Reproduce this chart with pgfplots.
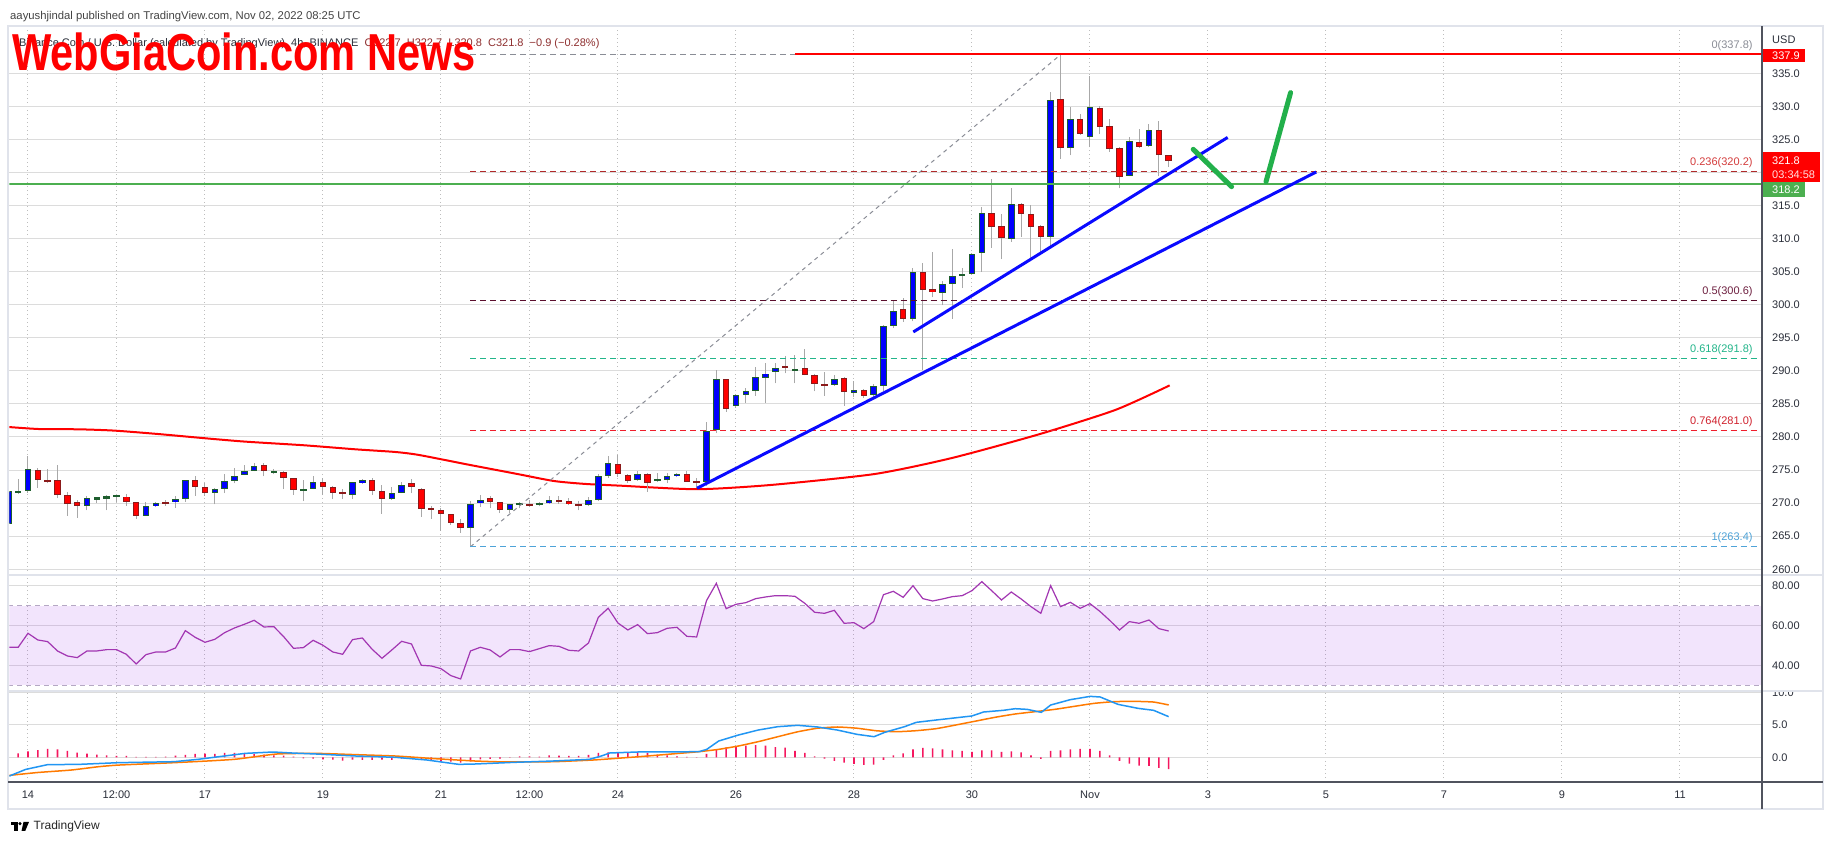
\documentclass[border=0pt]{standalone}
\usepackage{pgfplots}
\pgfplotsset{compat=1.18}
\usepackage{pgfplotstable}
\usepackage{graphicx}
\usepackage{fontspec}
\setmainfont{Liberation Sans}
\definecolor{upfill}{HTML}{0000FF}
\definecolor{upedge}{HTML}{1E5E2E}
\definecolor{dnfill}{HTML}{FF0000}
\definecolor{dnedge}{HTML}{8B1A1A}
\definecolor{wick}{HTML}{A8A8A8}
\definecolor{gridc}{HTML}{DCDCDC}
\definecolor{vgridc}{HTML}{BDBDBD}
\definecolor{tickc}{HTML}{2A2E39}
\definecolor{hdrc}{HTML}{444444}
\definecolor{framec}{HTML}{E0E3EB}
\definecolor{axisc}{HTML}{50535E}
\definecolor{trendblue}{HTML}{0A0AFF}
\definecolor{arrowgreen}{HTML}{22B04B}
\definecolor{suppgreen}{HTML}{4CAF50}
\definecolor{fibgray}{HTML}{8A8D96}
\definecolor{fibA}{HTML}{B02A2A}
\definecolor{fibAt}{HTML}{D43C3C}
\definecolor{fibB}{HTML}{5B0F2E}
\definecolor{fibBt}{HTML}{6E2040}
\definecolor{fibC}{HTML}{22B58A}
\definecolor{fibD}{HTML}{F01E2C}
\definecolor{fibDt}{HTML}{D0202C}
\definecolor{fibE}{HTML}{4EA3D8}
\definecolor{rsic}{HTML}{A236B2}
\definecolor{bandc}{RGB}{155,38,238}
\definecolor{banddash}{HTML}{B5A8C4}
\definecolor{macdblue}{HTML}{2196F3}
\definecolor{macdorange}{HTML}{FF7A00}
\definecolor{histc}{HTML}{F5175F}
\definecolor{wmred}{HTML}{FF0000}
\definecolor{ohlcc}{HTML}{8E2F2F}
\newcommand\tk{\fontsize{11}{13}\selectfont}

\pgfplotstableread{
i o h l c
-2 266.9 272.0 266.5 271.8
-1 271.6 273.7 271.4 271.8
0 271.8 277.1 271.6 275.1
1 275.0 275.3 272.3 273.55
2 273.45 275.1 273.0 273.25
3 273.45 275.7 270.7 271.3
4 271.3 271.7 268.1 269.8
5 270.1 270.5 267.8 269.5
6 269.5 271.1 268.9 270.7
7 270.6 270.9 270.0 270.8
8 270.7 271.3 268.9 271.0
9 271.0 271.1 270.1 271.1
10 271.0 271.4 269.6 270.1
11 270.1 270.2 267.65 268.1
12 268.1 270.1 268.0 269.5
13 269.5 270.1 269.4 270.0
14 270.2 270.5 269.6 269.9
15 270.1 271.1 269.3 270.6
16 270.6 273.5 270.2 273.45
17 273.45 274.1 271.1 272.5
18 272.5 273.1 271.1 271.6
19 271.5 272.3 269.8 272.2
20 272.2 274.4 271.5 273.3
21 273.3 275.3 273.0 274.05
22 274.2 275.7 274.2 274.8
23 274.8 276.0 274.8 275.6
24 275.7 276.0 274.05 274.8
25 274.7 275.1 274.4 274.8
26 274.75 274.8 272.1 273.75
27 273.75 273.8 271.3 272.0
28 271.9 273.45 270.3 272.2
29 272.2 274.05 272.1 273.15
30 273.15 273.8 271.2 272.5
31 272.5 272.6 270.6 271.6
32 271.6 272.2 270.6 271.4
33 271.2 273.15 270.6 273.15
34 273.0 273.6 272.9 273.45
35 273.45 273.75 271.2 271.9
36 271.9 272.7 268.4 270.6
37 270.6 272.5 270.5 271.6
38 271.6 273.15 271.5 272.8
39 273.0 273.6 271.5 272.4
40 272.2 272.3 267.95 269.06
41 269.2 269.5 267.65 268.9
42 268.9 269.2 265.8 268.4
43 268.3 268.4 266.75 267.05
44 267.05 267.65 265.5 266.3
45 266.3 270.3 263.4 269.8
46 269.97 271.2 269.4 270.4
47 270.7 271.0 269.2 270.1
48 270.1 270.2 268.5 268.9
49 268.9 269.9 268.5 269.8
50 269.8 270.1 269.2 269.9
51 269.8 270.4 269.4 269.5
52 269.7 270.1 269.5 269.97
53 269.97 271.0 269.9 270.4
54 270.4 271.0 269.9 270.2
55 270.3 270.8 269.7 269.8
56 269.8 270.3 268.9 269.7
57 269.7 270.9 269.6 270.4
58 270.4 274.4 270.3 274.05
59 274.05 277.1 273.8 276.0
60 275.9 277.3 274.0 274.4
61 274.2 274.4 273.0 273.4
62 273.45 274.9 273.4 274.4
63 274.4 274.5 271.7 273.1
64 273.4 274.5 273.2 273.5
65 273.45 274.5 273.0 274.1
66 274.05 274.6 273.9 274.4
67 274.4 274.9 273.2 273.25
68 273.3 273.76 272.25 273.1
69 273.15 282.3 272.6 280.9
70 281.1 290.1 280.6 288.7
71 288.7 288.8 283.8 284.3
72 284.65 286.5 284.4 286.3
73 286.3 287.4 285.2 287.0
74 286.9 290.6 286.2 289.0
75 288.9 291.25 285.2 289.6
76 289.9 291.15 288.1 290.4
77 290.7 292.3 289.6 290.4
78 290.05 292.4 288.1 290.2
79 290.4 293.3 289.3 289.3
80 289.4 289.5 286.9 288.0
81 287.9 289.9 286.2 287.8
82 287.8 289.3 287.7 288.7
83 288.9 289.0 284.75 286.8
84 286.7 288.4 286.0 287.1
85 287.1 287.2 285.9 286.2
86 286.3 288.0 286.0 287.7
87 287.7 297.0 286.9 296.8
88 296.8 300.7 296.5 299.1
89 299.3 301.0 297.4 297.9
90 297.9 305.5 297.5 304.9
91 304.9 306.3 290.1 302.3
92 302.4 308.0 301.1 301.9
93 301.7 303.6 299.9 303.2
94 303.2 308.5 297.9 304.3
95 304.3 305.6 302.5 304.6
96 304.6 307.8 304.5 307.6
97 307.8 314.8 305.0 313.8
98 313.8 318.97 308.6 311.8
99 311.9 313.7 306.9 310.1
100 310.0 317.6 309.5 315.3
101 315.3 315.4 310.3 313.7
102 313.7 315.1 307.0 311.7
103 311.9 312.0 307.8 310.3
104 310.3 332.1 308.8 330.9
105 331.1 337.8 322.1 323.7
106 323.7 329.95 322.6 328.04
107 328.04 328.9 325.7 325.8
108 325.4 334.6 323.8 329.85
109 329.7 330.05 325.8 326.9
110 327.0 328.04 323.1 323.5
111 323.7 323.8 317.6 319.3
112 319.5 325.3 319.4 324.7
113 324.56 326.5 323.7 323.8
114 324.0 327.3 323.9 326.4
115 326.4 327.8 319.4 322.7
116 322.7 322.7 320.8 321.8
}\candles

\pgfplotstableread{
i r
-2 49.08
-1 49.08
0 56.14
1 52.78
2 51.94
3 47.23
4 44.71
5 43.87
6 47.23
7 47.23
8 47.90
9 47.90
10 45.55
11 40.67
12 45.38
13 46.72
14 46.72
15 48.74
16 57.48
17 54.12
18 51.6
19 53.11
20 56.47
21 58.83
22 60.68
23 62.69
24 59.33
25 59.5
26 54.46
27 48.57
28 48.91
29 52.61
30 50.09
31 46.72
32 45.55
33 52.94
34 53.78
35 48.07
36 43.53
37 47.73
38 52.1
39 50.76
40 40.0
41 39.67
42 38.32
43 34.8
44 33.1
45 47.23
46 49.08
47 47.73
48 44.2
49 47.9
50 47.9
51 46.9
52 48.4
53 49.92
54 49.58
55 47.57
56 47.23
57 51.26
58 64.2
59 68.8
60 61.3
61 57.82
62 60.51
63 55.97
64 56.47
65 58.66
66 59.16
67 54.62
68 54.29
69 72.61
70 81.35
71 68.57
72 70.76
73 71.6
74 73.62
75 74.46
76 75.13
77 75.13
78 74.79
79 71.26
80 66.73
81 66.22
82 67.73
83 61.18
84 61.5
85 58.49
86 62.02
87 75.63
88 77.31
89 74.29
90 80.17
91 73.62
92 72.44
93 73.45
94 74.63
95 75.13
96 77.65
97 82.19
98 77.65
99 72.94
100 76.98
101 73.45
102 69.58
103 66.22
104 80.17
105 69.58
106 71.77
107 68.74
108 71.1
109 67.23
110 62.69
111 57.82
112 62.02
113 61.18
114 62.86
115 58.49
116 57.31
}\rsi

\pgfplotstableread{
i v
-1 0.62
0 0.93
1 1.13
2 1.29
3 1.24
4 0.98
5 0.72
6 0.57
7 0.41
8 0.31
9 0.21
10 0.21
11 0.05
12 0.05
13 0.05
14 0.1
15 0.26
16 0.36
17 0.52
18 0.57
19 0.52
20 0.67
21 0.67
22 0.57
23 0.52
24 0.41
25 0.31
26 0.26
27 0.1
28 -0.15
29 -0.2
30 -0.31
31 -0.36
32 -0.52
33 -0.36
34 -0.41
35 -0.41
36 -0.36
37 -0.41
38 -0.2
39 -0.2
40 -0.41
41 -0.57
42 -0.62
43 -0.67
44 -0.83
45 -0.62
46 -0.31
47 -0.26
48 -0.2
49 -0.05
50 0.15
51 0.15
52 0.1
53 0.31
54 0.26
55 0.21
56 0.21
57 0.36
58 0.67
59 0.77
60 0.72
61 0.67
62 0.83
63 0.67
64 0.41
65 0.31
66 0.15
67 0.05
68 0.03
69 0.52
70 1.24
71 1.54
72 1.70
73 1.80
74 1.90
75 1.80
76 1.59
77 1.49
78 0.98
79 0.67
80 0.15
81 -0.2
82 -0.57
83 -0.83
84 -1.03
85 -1.19
86 -1.14
87 -0.41
88 0.31
89 0.62
90 1.24
91 1.44
92 1.39
93 1.24
94 1.08
95 0.98
96 0.83
97 1.08
98 1.08
99 0.83
100 0.93
101 0.77
102 0.31
103 -0.26
104 0.98
105 1.08
106 1.24
107 1.29
108 1.29
109 0.98
110 0.31
111 -0.57
112 -0.98
113 -1.29
114 -1.34
115 -1.65
116 -1.81
}\hist

\pgfplotsset{
  tvaxis/.style={scale only axis, anchor=south west, width=1752.5pt,
    xmin=-1.881, xmax=176.34, axis line style={draw=none}, tick style={draw=none},
    major tick length=0pt,
    xtick={0,9,18,30,42,51,60,72,84,96,108,120,132,144,156,168},
    xmajorgrids, ymajorgrids,
    x grid style={draw=vgridc, line width=1pt, dash pattern=on 1pt off 3pt},
    y grid style={draw=gridc, line width=1pt},
    yticklabel pos=right,
    yticklabel style={anchor=west, inner sep=0pt, xshift=10pt, font=\tk, text=tickc},
    xticklabel style={font=\tk, text=tickc},
  },
  nolabels/.style={xticklabels={,,,,,,,,,,,,,,,}},
  candle/.style={draw=none, mark=none, forget plot,
    error bars/y dir=both, error bars/y explicit, error bars/error mark=none,
    restrict y to domain=200:400},
}

\begin{document}
\begin{tikzpicture}
\path[use as bounding box, fill=white] (0pt,0pt) rectangle (1834pt,845pt);

% ---------------- price panel
\begin{axis}[tvaxis, nolabels, at={(9.5pt,270pt)}, height=549pt, ymin=259.13, ymax=342.15,
  ytick={260,265,...,335},
  yticklabels={260.0,265.0,270.0,275.0,280.0,285.0,290.0,295.0,300.0,305.0,310.0,315.0,,325.0,330.0,335.0}]
% moving average
\addplot[wmred, line width=2pt, smooth, tension=0.4] coordinates {
(-1.9,281.5) (1.17,281.2) (5.19,281.16) (8.82,280.96) (13.22,280.45) (18.06,279.8)
(22.07,279.3) (28.12,278.74) (33.35,278.13) (37.36,277.73) (39.76,277.28) (44.6,275.87)
(49.43,274.5) (53.45,273.35) (56.67,272.9) (60.2,272.64) (68.04,272.1) (75.6,272.75)
(86.1,274.4) (93.9,276.8) (102.8,280.4) (110.6,284.1) (116.1,287.8)};
% wicks
\addplot[draw=none, mark=none, forget plot,
  error bars/y dir=plus, error bars/y explicit, error bars/error mark=none,
  error bars/error bar style={draw=wick, line width=1pt}]
  table[x=i, y=l, y error expr=\thisrow{h}-\thisrow{l}] {\candles};
% up bodies
\addplot[candle, error bars/error bar style={draw=upedge, line width=6.6pt}]
  table[x=i, y expr={\thisrow{c}>=\thisrow{o} ? (\thisrow{o}+\thisrow{c})/2 : -1000},
        y error expr={max(abs(\thisrow{c}-\thisrow{o})/2,0.16)}] {\candles};
\addplot[candle, error bars/error bar style={draw=upfill, line width=4.6pt}]
  table[x=i, y expr={\thisrow{c}>=\thisrow{o} ? (\thisrow{o}+\thisrow{c})/2 : -1000},
        y error expr={max(abs(\thisrow{c}-\thisrow{o})/2-0.15,0)}] {\candles};
% down bodies
\addplot[candle, error bars/error bar style={draw=dnedge, line width=6.6pt}]
  table[x=i, y expr={\thisrow{c}<\thisrow{o} ? (\thisrow{o}+\thisrow{c})/2 : -1000},
        y error expr={max(abs(\thisrow{c}-\thisrow{o})/2,0.16)}] {\candles};
\addplot[candle, error bars/error bar style={draw=dnfill, line width=4.6pt}]
  table[x=i, y expr={\thisrow{c}<\thisrow{o} ? (\thisrow{o}+\thisrow{c})/2 : -1000},
        y error expr={max(abs(\thisrow{c}-\thisrow{o})/2-0.15,0)}] {\candles};
% fibonacci
\addplot[fibgray, line width=1pt, dash pattern=on 4pt off 4pt] coordinates {(45,263.4) (105,337.8)};
\addplot[fibgray, line width=1pt, dash pattern=on 6pt off 4pt] coordinates {(45,337.8) (176.34,337.8)};
\addplot[fibA, line width=1pt, dash pattern=on 6pt off 4pt] coordinates {(45,320.2) (176.34,320.2)};
\addplot[fibB, line width=1pt, dash pattern=on 6pt off 4pt] coordinates {(45,300.6) (176.34,300.6)};
\addplot[fibC, line width=1pt, dash pattern=on 6pt off 4pt] coordinates {(45,291.8) (176.34,291.8)};
\addplot[fibD, line width=1pt, dash pattern=on 6pt off 4pt] coordinates {(45,281.0) (176.34,281.0)};
\addplot[fibE, line width=1pt, dash pattern=on 6pt off 4pt] coordinates {(45,263.4) (176.34,263.4)};
\node[anchor=base east, inner sep=0pt, yshift=6pt, font=\tk, text=fibgray] at (axis cs:175.4,337.8) {0(337.8)};
\node[anchor=base east, inner sep=0pt, yshift=6pt, font=\tk, text=fibAt] at (axis cs:175.4,320.2) {0.236(320.2)};
\node[anchor=base east, inner sep=0pt, yshift=6pt, font=\tk, text=fibBt] at (axis cs:175.4,300.6) {0.5(300.6)};
\node[anchor=base east, inner sep=0pt, yshift=6pt, font=\tk, text=fibC] at (axis cs:175.4,291.8) {0.618(291.8)};
\node[anchor=base east, inner sep=0pt, yshift=6pt, font=\tk, text=fibDt] at (axis cs:175.4,281.0) {0.764(281.0)};
\node[anchor=base east, inner sep=0pt, yshift=6pt, font=\tk, text=fibE] at (axis cs:175.4,263.4) {1(263.4)};
% horizontal levels
\addplot[wmred, line width=2pt] coordinates {(78,337.9) (176.34,337.9)};
\addplot[suppgreen, line width=2pt] coordinates {(-1.881,318.2) (176.34,318.2)};
% trend lines
\addplot[trendblue, line width=3pt] coordinates {(68.04,272.25) (131.0,320.07)};
\addplot[trendblue, line width=3pt] coordinates {(90.03,295.88) (122.0,325.3)};
% arrows
\addplot[arrowgreen, line width=5pt, line cap=round] coordinates {(118.5,323.5) (122.4,317.85)};
\addplot[arrowgreen, line width=5pt, line cap=round] coordinates {(125.9,318.6) (128.4,332.07)};
\end{axis}

% ---------------- RSI panel
\begin{axis}[tvaxis, nolabels, at={(9.5pt,154pt)}, height=116pt, ymin=27.04, ymax=85.55,
  ytick={40,60,80}, yticklabels={40.00,60.00,80.00}]
\addplot[draw=none, fill=bandc, fill opacity=0.12, forget plot] coordinates {(-2,30) (177,30) (177,70) (-2,70)};
\addplot[banddash, line width=1pt, dash pattern=on 5pt off 4pt] coordinates {(-2,70) (177,70)};
\addplot[banddash, line width=1pt, dash pattern=on 5pt off 4pt] coordinates {(-2,30) (177,30)};
\addplot[rsic, line width=1.2pt] table[x=i, y=r] {\rsi};
\end{axis}

% ---------------- MACD panel
\begin{axis}[tvaxis, at={(9.5pt,63pt)}, height=91pt, ymin=-3.82, ymax=10.26,
  ytick={0,5,10}, yticklabels={0.0,5.0,},
  xticklabels={14,12:00,17,19,21,12:00,24,26,28,30,Nov,3,5,7,9,11},
  xticklabel style={anchor=base, inner sep=0pt, yshift=-17pt}]
\addplot[ybar, bar width=1.6pt, fill=histc, draw=none] table[x=i, y=v] {\hist};
\addplot[macdorange, line width=1.5pt, smooth, tension=0.3] coordinates {
(-1.9,-2.8) (1.0,-2.35) (4.39,-1.97) (7.2,-1.45) (9.22,-1.2) (14.85,-0.83) (18.87,-0.52)
(21.28,-0.27) (25.3,0.51) (29.32,0.61) (33.35,0.41) (37.37,0.2) (41.39,-0.21) (45.41,-0.57)
(48.62,-0.72) (53.45,-0.68) (57.47,-0.42) (58.17,-0.35) (62.19,0.1) (66.21,0.61) (68.23,0.87)
(70.24,1.23) (72.25,1.75) (74.26,2.42) (76.26,3.19) (78.28,3.95) (80.29,4.5) (82.3,4.69)
(84.31,4.5) (86.32,4.1) (88.33,3.96) (90.34,4.12) (92.35,4.43) (94.36,5.0) (96.37,5.6)
(98.38,6.2) (100.39,6.7) (102.41,7.06) (104.42,7.42) (106.43,7.89) (108.44,8.35)
(110.45,8.61) (112.46,8.66) (114.47,8.55) (116.0,8.1)};
\addplot[macdblue, line width=1.5pt] coordinates {
(-1.9,-2.9) (-0.23,-1.87) (1.98,-1.14) (5.2,-1.09) (9.22,-0.83) (14.85,-0.68) (17.26,-0.32)
(22.09,0.61) (24.9,0.82) (26.91,0.66) (29.32,0.51) (33.35,0.2) (37.37,0.0) (40.58,-0.42)
(43.8,-1.09) (45.41,-1.04) (49.43,-0.78) (53.45,-0.57) (57.07,-0.32) (58.2,0.15) (59.18,0.67)
(62.19,0.83) (64.2,0.83) (68.23,0.87) (69.03,1.23) (70.24,2.52) (72.25,3.45) (74.26,4.22)
(76.26,4.74) (78.28,4.95) (80.29,4.69) (82.3,4.22) (84.31,3.55) (86.04,3.19) (87.12,3.86)
(89.14,4.74) (90.34,5.41) (92.35,5.77) (95.97,6.39) (97.18,7.01) (99.19,7.27) (100.39,7.52)
(101.6,7.42) (103.05,6.96) (104.0,8.09) (106.0,8.92) (108.03,9.43) (109.04,9.33) (110.85,8.19)
(112.86,7.58) (114.47,7.27) (116.0,6.29)};
\end{axis}

% ---------------- frame, axes, overlays
\begin{scope}[x=1pt, y=1pt]
\begin{scope}
\clip (1763,60) rectangle (1822,153);
\node[anchor=west, inner sep=0pt, font=\tk, text=tickc] at (1772,152.3) {10.0};
\end{scope}
\draw[framec, line width=2pt] (8,270) -- (1823,270);
\draw[framec, line width=2pt] (8,154) -- (1823,154);
\draw[framec, line width=2pt] (8,36) rectangle (1823,819);
\draw[axisc, line width=1.3pt] (8,63) -- (1823,63);
\draw[axisc, line width=1.3pt] (1762,36) -- (1762,819);
% price tags
\node[anchor=west, inner sep=0pt, font=\tk, text=tickc] at (1772,805) {USD};
\fill[wmred] (1762.5,782.7) rectangle (1805,795.7);
\node[anchor=west, inner sep=0pt, font=\tk, text=white] at (1772,789.2) {337.9};
\fill[wmred] (1762.5,663.3) rectangle (1819.7,692.7);
\node[anchor=west, inner sep=0pt, font=\tk, text=white] at (1772,684) {321.8};
\node[anchor=west, inner sep=0pt, font=\tk, text=white!88!red] at (1772,670.3) {03:34:58};
\fill[suppgreen] (1762.5,647.7) rectangle (1805,662.7);
\node[anchor=west, inner sep=0pt, font=\tk, text=white] at (1772,655.2) {318.2};
% header
\node[anchor=base west, inner sep=0pt, font=\fontsize{11.3}{13}\selectfont, text=hdrc] at (10,825.5)
  {aayushjindal published on TradingView.com, Nov 02, 2022 08:25 UTC};
\node[anchor=base west, inner sep=0pt, font=\fontsize{11}{13}\selectfont, text=tickc] at (19,798)
  {Binance Coin / U.S. Dollar (calculated by TradingView), 4h, BINANCE\ \ \textcolor{ohlcc}{O322.7\ \ H322.7\ \ L320.8\ \ C321.8\ \ −0.9 (−0.28\%)}};
\node[anchor=base west, inner sep=0pt, text=wmred] at (12,774)
  {\scalebox{0.8}[1]{\fontsize{52}{52}\selectfont\bfseries WebGiaCoin.com News}};
% TradingView logo
\fill[black] (10.5,20) rectangle (17.5,23);
\fill[black] (14.3,14) rectangle (17.5,23);
\fill[black] (20,21.3) circle (1.7);
\fill[black] (23.5,23) -- (29,23) -- (25.2,14) -- (21.5,14) -- cycle;
\node[anchor=base west, inner sep=0pt, font=\fontsize{12}{14}\selectfont, text=black!85] at (33.5,15) {TradingView};
\end{scope}
\end{tikzpicture}
\end{document}
